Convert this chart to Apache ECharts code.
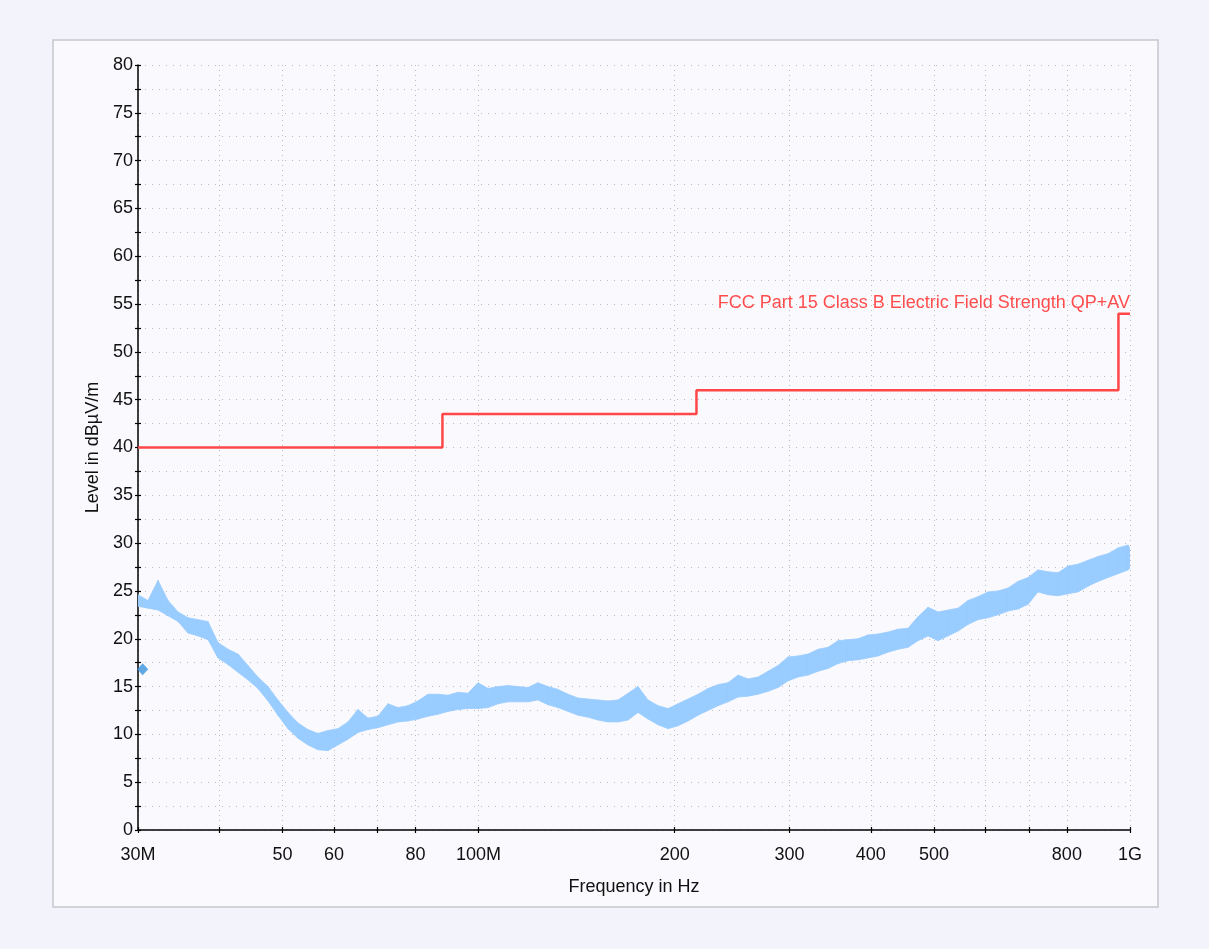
<!DOCTYPE html>
<html>
<head>
<meta charset="utf-8">
<script src="https://cdn.jsdelivr.net/npm/echarts@6/dist/echarts.min.js"></script>
<style>
  html, body { margin: 0; padding: 0; background: #f3f4fb; }
  #chart { width: 1209px; height: 949px; }
</style>
</head>
<body>
<div id="chart"></div>
<script>
// Measured emission sweep: frequency (MHz) with upper / lower edge of the noisy trace (dBµV/m)
const freqMHz = [
  30.0, 31.08, 32.20, 33.36, 34.56, 35.80, 37.09, 38.42, 39.80, 41.24,
  42.72, 44.25, 45.84, 47.50, 49.20, 50.97, 52.81, 54.70, 56.67, 58.71,
  60.83, 63.02, 65.29, 67.64, 70.07, 72.59, 75.20, 77.91, 80.71, 83.61,
  86.62, 89.74, 92.96, 96.31, 99.79, 103.4, 107.1, 110.9, 114.9, 119.1,
  123.3, 127.8, 132.4, 137.2, 142.1, 147.2, 152.5, 158.0, 163.7, 169.6,
  175.7, 182.0, 188.6, 195.4, 202.4, 209.7, 217.2, 225.0, 233.1, 241.5,
  250.2, 259.2, 268.6, 278.2, 288.2, 298.6, 309.3, 320.5, 332.0, 343.9,
  356.3, 369.1, 382.4, 396.2, 410.4, 425.2, 440.5, 456.3, 472.7, 489.7,
  507.4, 525.6, 544.5, 564.1, 584.4, 605.4, 627.2, 649.8, 673.1, 697.4,
  722.4, 748.4, 775.4, 803.3, 832.2, 862.1, 893.2, 925.3, 958.6, 993.1,
  1000
];
const levelHigh = [
  24.6, 24.0, 26.1, 24.0, 22.8, 22.2, 22.0, 21.8, 19.6, 18.9,
  18.4, 17.2, 16.0, 15.0, 13.6, 12.3, 11.2, 10.5, 10.1, 10.4,
  10.6, 11.3, 12.6, 11.7, 11.9, 13.2, 12.8, 13.0, 13.5, 14.2,
  14.2, 14.1, 14.4, 14.3, 15.4, 14.8, 15.0, 15.1, 15.0, 14.9,
  15.4, 15.0, 14.7, 14.2, 13.8, 13.7, 13.6, 13.5, 13.6, 14.3,
  15.0, 13.6, 13.0, 12.7, 13.2, 13.7, 14.2, 14.8, 15.2, 15.4,
  16.2, 15.8, 16.0, 16.6, 17.2, 18.1, 18.2, 18.4, 18.9, 19.1,
  19.8, 19.9, 20.0, 20.4, 20.5, 20.7, 21.0, 21.1, 22.3, 23.3,
  22.8, 23.0, 23.2, 24.0, 24.4, 24.9, 25.0, 25.3, 26.0, 26.4,
  27.2, 27.0, 26.9, 27.6, 27.8, 28.2, 28.6, 28.9, 29.5, 29.8,
  29.4
];
const levelLow = [
  23.4, 23.2, 23.0, 22.4, 21.8, 20.6, 20.3, 19.9, 18.0, 17.3,
  16.5, 15.7, 14.8, 13.5, 12.0, 10.6, 9.6, 8.9, 8.4, 8.3,
  8.9, 9.5, 10.2, 10.5, 10.7, 11.0, 11.3, 11.4, 11.6, 11.9,
  12.1, 12.4, 12.6, 12.7, 12.7, 12.8, 13.2, 13.4, 13.4, 13.4,
  13.6, 13.1, 12.8, 12.4, 12.0, 11.8, 11.5, 11.3, 11.3, 11.5,
  12.3, 11.6, 11.0, 10.6, 10.9, 11.4, 12.0, 12.5, 13.0, 13.4,
  13.9, 14.0, 14.2, 14.5, 14.9, 15.6, 16.0, 16.2, 16.6, 16.9,
  17.4, 17.7, 17.8, 18.0, 18.2, 18.6, 18.9, 19.1, 19.8, 20.3,
  19.8, 20.3, 20.8, 21.5, 22.0, 22.2, 22.5, 22.9, 23.1, 23.6,
  24.9, 24.6, 24.5, 24.7, 24.9, 25.5, 26.0, 26.4, 26.8, 27.2,
  27.4
];

// FCC Part 15 Class B limit (level holds from each frequency up to the next)
const limitFreqMHz = [30, 88, 216, 960, 1000];
const limitLevel = [40, 43.5, 46, 54, 54];
const limitName = 'FCC Part 15 Class B Electric Field Strength QP+AV';

// Final measurement point
const markerFreqMHz = [30.5];
const markerLevel = [16.8];

// Frequency axis ticks and labels
const tickFreqMHz = [30, 40, 50, 60, 70, 80, 100, 200, 300, 400, 500, 600, 700, 800, 1000];
const labelFreqMHz = [30, 50, 60, 80, 100, 200, 300, 400, 500, 800, 1000];
const labelText = { 30: '30M', 100: '100M', 1000: '1G' };

const FONT = '"Liberation Sans", Arial, Helvetica, sans-serif';
const TRACE_COLOR = '#99ccff';
const lg = Math.log10;

// One row per sweep sample: [log10 f, upper edge, lower edge]
const traceRows = freqMHz.map((f, i) => [lg(f), levelHigh[i], levelLow[i]]);
const limitData = limitFreqMHz.map((f, i) => [lg(f), limitLevel[i]]);
const markerData = markerFreqMHz.map((f, i) => [lg(f), markerLevel[i]]);

const xMin = lg(30), xMax = lg(1000);
const tickVals = tickFreqMHz.map(lg);
const labelVals = labelFreqMHz.map(lg);

// Fills the band between the upper and lower edge from one sample to the next
function renderTraceSegment(params, api) {
  const i = params.dataIndex;
  if (i >= traceRows.length - 1) return null;
  const a = traceRows[i], b = traceRows[i + 1];
  const pts = [
    api.coord([a[0], a[1]]),
    api.coord([b[0], b[1]]),
    api.coord([b[0], b[2]]),
    api.coord([a[0], a[2]])
  ];
  return {
    type: 'polygon',
    shape: { points: pts },
    style: { fill: TRACE_COLOR, stroke: TRACE_COLOR, lineWidth: 0.8 }
  };
}

const chart = echarts.init(document.getElementById('chart'), null, { renderer: 'canvas' });
chart.setOption({
  backgroundColor: '#f3f4fb',
  animation: false,
  textStyle: { fontFamily: FONT },
  grid: { left: 138, right: 79, top: 65, bottom: 119, containLabel: false },
  graphic: [
    {
      type: 'rect', z: -10, silent: true,
      shape: { x: 53, y: 40, width: 1105, height: 867 },
      style: { fill: '#fafafe', stroke: '#c6c6cc', lineWidth: 1.5 }
    },
    {
      type: 'text', right: 79, top: 294, z: 10,
      style: { text: limitName, fill: '#ff4d4d', font: '18px ' + FONT }
    }
  ],
  xAxis: [
    {
      type: 'value', min: xMin, max: xMax, position: 'bottom',
      axisLine: { show: true, onZero: false, lineStyle: { color: '#000', width: 1.5 } },
      axisTick: { show: true, length: 3, customValues: tickVals, lineStyle: { color: '#000', width: 1.2 } },
      axisLabel: {
        customValues: labelVals, margin: 16, fontSize: 18, color: '#111', fontFamily: FONT,
        formatter: v => { const f = Math.round(Math.pow(10, v)); return labelText[f] || String(f); }
      },
      splitLine: { show: true, lineStyle: { color: '#bdbdbd', width: 1, type: [1, 4] } },
      name: 'Frequency in Hz', nameLocation: 'middle', nameGap: 48,
      nameTextStyle: { fontSize: 18, color: '#111', fontFamily: FONT }
    },
    {
      type: 'value', min: xMin, max: xMax, position: 'bottom',
      axisLine: { show: false, onZero: false },
      axisTick: { show: true, inside: true, length: 3, customValues: tickVals, lineStyle: { color: '#000', width: 1.2 } },
      axisLabel: { show: false },
      splitLine: { show: false }
    }
  ],
  yAxis: [
    {
      type: 'value', min: 0, max: 80, interval: 2.5, position: 'left',
      axisLine: { show: true, onZero: false, lineStyle: { color: '#000', width: 1.5 } },
      axisTick: { show: true, length: 3, lineStyle: { color: '#000', width: 1.2 } },
      axisLabel: {
        margin: 5, fontSize: 18, color: '#111', fontFamily: FONT,
        formatter: v => (v % 5 === 0 ? String(v) : '')
      },
      splitLine: { show: true, lineStyle: { color: '#bdbdbd', width: 1, type: [1, 6] } },
      name: 'Level in dBµV/m', nameLocation: 'middle', nameGap: 35,
      nameTextStyle: { fontSize: 18, color: '#111', fontFamily: FONT }
    },
    {
      type: 'value', min: 0, max: 80, interval: 2.5, position: 'left',
      axisLine: { show: false, onZero: false },
      axisTick: { show: true, inside: true, length: 3, lineStyle: { color: '#000', width: 1.2 } },
      axisLabel: { show: false },
      splitLine: { show: false }
    }
  ],
  series: [
    {
      name: 'Trace', type: 'custom', data: traceRows,
      encode: { x: 0, y: [1, 2] },
      renderItem: renderTraceSegment, clip: true, silent: true, z: 3
    },
    {
      name: limitName, type: 'line', data: limitData, step: 'end', symbol: 'none',
      lineStyle: { color: '#ff4747', width: 2.5 }, z: 5
    },
    {
      name: 'Final', type: 'scatter', data: markerData, symbol: 'diamond',
      symbolSize: [11, 12], itemStyle: { color: '#3b93dc' }, z: 6
    }
  ]
});
</script>
</body>
</html>
